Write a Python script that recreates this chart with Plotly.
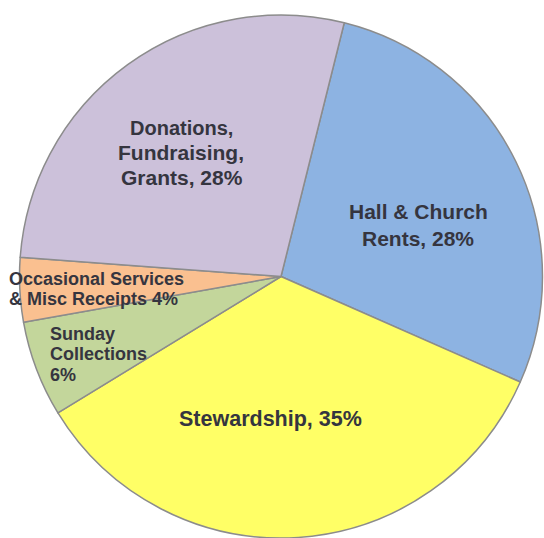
import plotly.graph_objects as go

categories = ["Hall & Church Rents", "Stewardship", "Sunday Collections",
              "Occasional Services & Misc Receipts", "Donations, Fundraising, Grants"]
values = [28, 35, 6, 4, 28]
colors = ["#8DB3E2", "#FFFF66", "#C3D69B", "#FAC090", "#CCC1DA"]

W, H = 544, 538

fig = go.Figure(go.Pie(
    labels=categories,
    values=values,
    sort=False,
    direction="clockwise",
    rotation=14,
    marker=dict(colors=colors, line=dict(color="#8C8C8C", width=1.5)),
    textinfo="none",
    hoverinfo="label+percent",
    showlegend=False,
    domain=dict(x=[19 / W, 543 / W], y=[0, 1 - 15 / H]),
))

def px(x, y):
    return x / W, 1 - y / H

# (text, x_px, y_px, xanchor, size)
label_lines = [
    ("Donations,", 181, 128, "center", 20),
    ("Fundraising,", 181, 152, "center", 21),
    ("Grants, 28%", 182, 177, "center", 21),
    ("Hall & Church", 418, 211, "center", 21),
    ("Rents, 28%", 418, 238, "center", 21),
    ("Stewardship, 35%", 270, 419, "center", 21.5),
    ("Occasional Services", 7, 279, "left", 18),
    ("& Misc Receipts 4%", 7, 299, "left", 18),
    ("Sunday", 48, 334, "left", 18),
    ("Collections", 48, 354, "left", 18),
    ("6%", 48, 375, "left", 18),
]

annotations = []
for text, x, y, xa, size in label_lines:
    ax, ay = px(x, y)
    annotations.append(dict(
        text=text, x=ax, y=ay, xref="paper", yref="paper",
        xanchor=xa, yanchor="middle", showarrow=False,
        font=dict(family="Liberation Sans, Arial, sans-serif", size=size,
                  color="#35353F", weight="bold"),
    ))

fig.update_layout(
    width=W, height=H,
    margin=dict(l=0, r=0, t=0, b=0),
    paper_bgcolor="white",
    annotations=annotations,
    font=dict(family="Liberation Sans, Arial, sans-serif"),
)

fig.write_html("out.html",
               config={"displayModeBar": False},
               post_script="document.body.style.margin='0';document.body.style.overflow='hidden';")
